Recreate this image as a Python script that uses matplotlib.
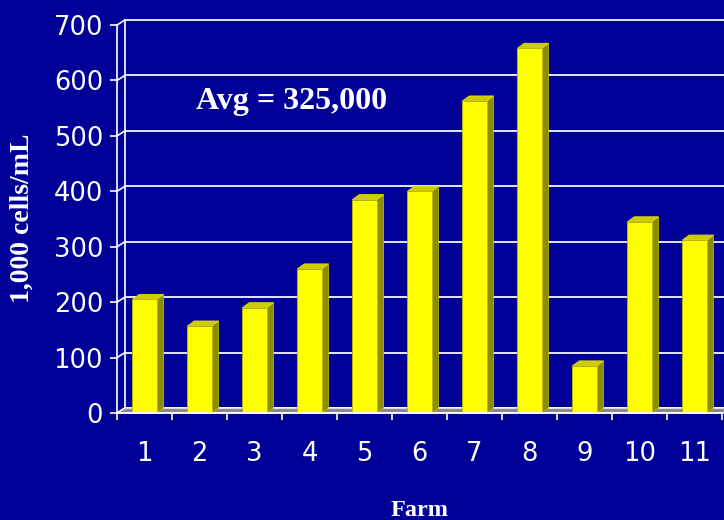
import matplotlib
matplotlib.use("Agg")
import matplotlib.pyplot as plt
from matplotlib.patches import Polygon

farms = ["1", "2", "3", "4", "5", "6", "7", "8", "9", "10", "11"]
scc = [205, 157, 190, 260, 385, 400, 563, 658, 85, 345, 312]
yticks = [0, 100, 200, 300, 400, 500, 600, 700]

BG = "#000099"
FRONT = "#FFFF00"
SIDE = "#8C8C00"
TOP = "#CCCC00"

fig = plt.figure(figsize=(7.24, 5.2), dpi=100, facecolor=BG)
ax = fig.add_axes([117 / 724, 107 / 520, 605 / 724, 388 / 520])
ax.set_facecolor(BG)
ax.set_xlim(0.5, 11.5)
ax.set_ylim(0, 700)

# depth of the 3D effect in data units
wall_dx, wall_dy = 0.145, 9.0
bar_w = 0.44
bar_dx, bar_dy = 0.125, 9.0

# back wall gridlines with short connectors to the front axis
for v in yticks:
    ax.plot([0.5 + wall_dx, 12.5], [v + wall_dy, v + wall_dy],
            color="#E6E6FF", lw=1.4, clip_on=False, zorder=1)
    ax.plot([0.5, 0.5 + wall_dx], [v, v + wall_dy],
            color="white", lw=1.2, clip_on=False, zorder=1)
ax.plot([0.5 + wall_dx, 0.5 + wall_dx], [wall_dy, 700 + wall_dy],
        color="white", lw=1.2, clip_on=False, zorder=1)

# floor
floor = Polygon([(0.5, 0), (12.5, 0), (12.5 + wall_dx, wall_dy), (0.5 + wall_dx, wall_dy)],
                closed=True, facecolor="#8A8A8A", edgecolor="white", lw=1.0,
                clip_on=False, zorder=2)
ax.add_patch(floor)

# 3D bars
xs = list(range(1, len(farms) + 1))
ax.bar(xs, scc, width=bar_w, color=FRONT, edgecolor="#B8B800", lw=0.6, zorder=4)
for x, v in zip(xs, scc):
    x0, x1 = x - bar_w / 2, x + bar_w / 2
    side = Polygon([(x1, 0), (x1 + bar_dx, bar_dy), (x1 + bar_dx, v + bar_dy), (x1, v)],
                   closed=True, facecolor=SIDE, edgecolor="#B8B800", lw=0.6,
                   zorder=3, clip_on=False)
    top = Polygon([(x0, v), (x0 + bar_dx, v + bar_dy), (x1 + bar_dx, v + bar_dy), (x1, v)],
                  closed=True, facecolor=TOP, edgecolor="#E0E000", lw=0.6,
                  zorder=3, clip_on=False)
    ax.add_patch(side)
    ax.add_patch(top)

# axes styling
for s in ["top", "right"]:
    ax.spines[s].set_visible(False)
for s in ["left", "bottom"]:
    ax.spines[s].set_color("white")
    ax.spines[s].set_linewidth(1.2)
    ax.spines[s].set_zorder(5)

ax.set_yticks(yticks)
ax.set_yticklabels([str(v) for v in yticks])
ax.tick_params(axis="y", colors="white", labelsize=18.5, length=5, width=1.2,
               direction="out", pad=5)

ax.set_xticks(xs)
ax.set_xticklabels(farms)
ax.set_xticks([i + 0.5 for i in range(0, len(farms) + 1)], minor=True)
ax.tick_params(axis="x", which="major", colors="white", labelsize=18.5, length=0, pad=20)
ax.tick_params(axis="x", which="minor", colors="white", length=5, width=1.2)

serif = ["Liberation Serif", "DejaVu Serif"]
fig.text(22 / 724, 1 - 218 / 520, "1,000 cells/mL", rotation=90, ha="center", va="center",
         color="white", fontsize=20, fontweight="bold", family=serif)
fig.text(420 / 724, 1 - 510 / 520, "Farm", ha="center", va="center",
         color="white", fontsize=17.5, fontweight="bold", family=serif)
fig.text(292 / 724, 1 - 101 / 520, "Avg = 325,000", ha="center", va="center",
         color="white", fontsize=23, fontweight="bold", family=serif, zorder=6)

fig.savefig("out.png", dpi=100, facecolor=BG)
